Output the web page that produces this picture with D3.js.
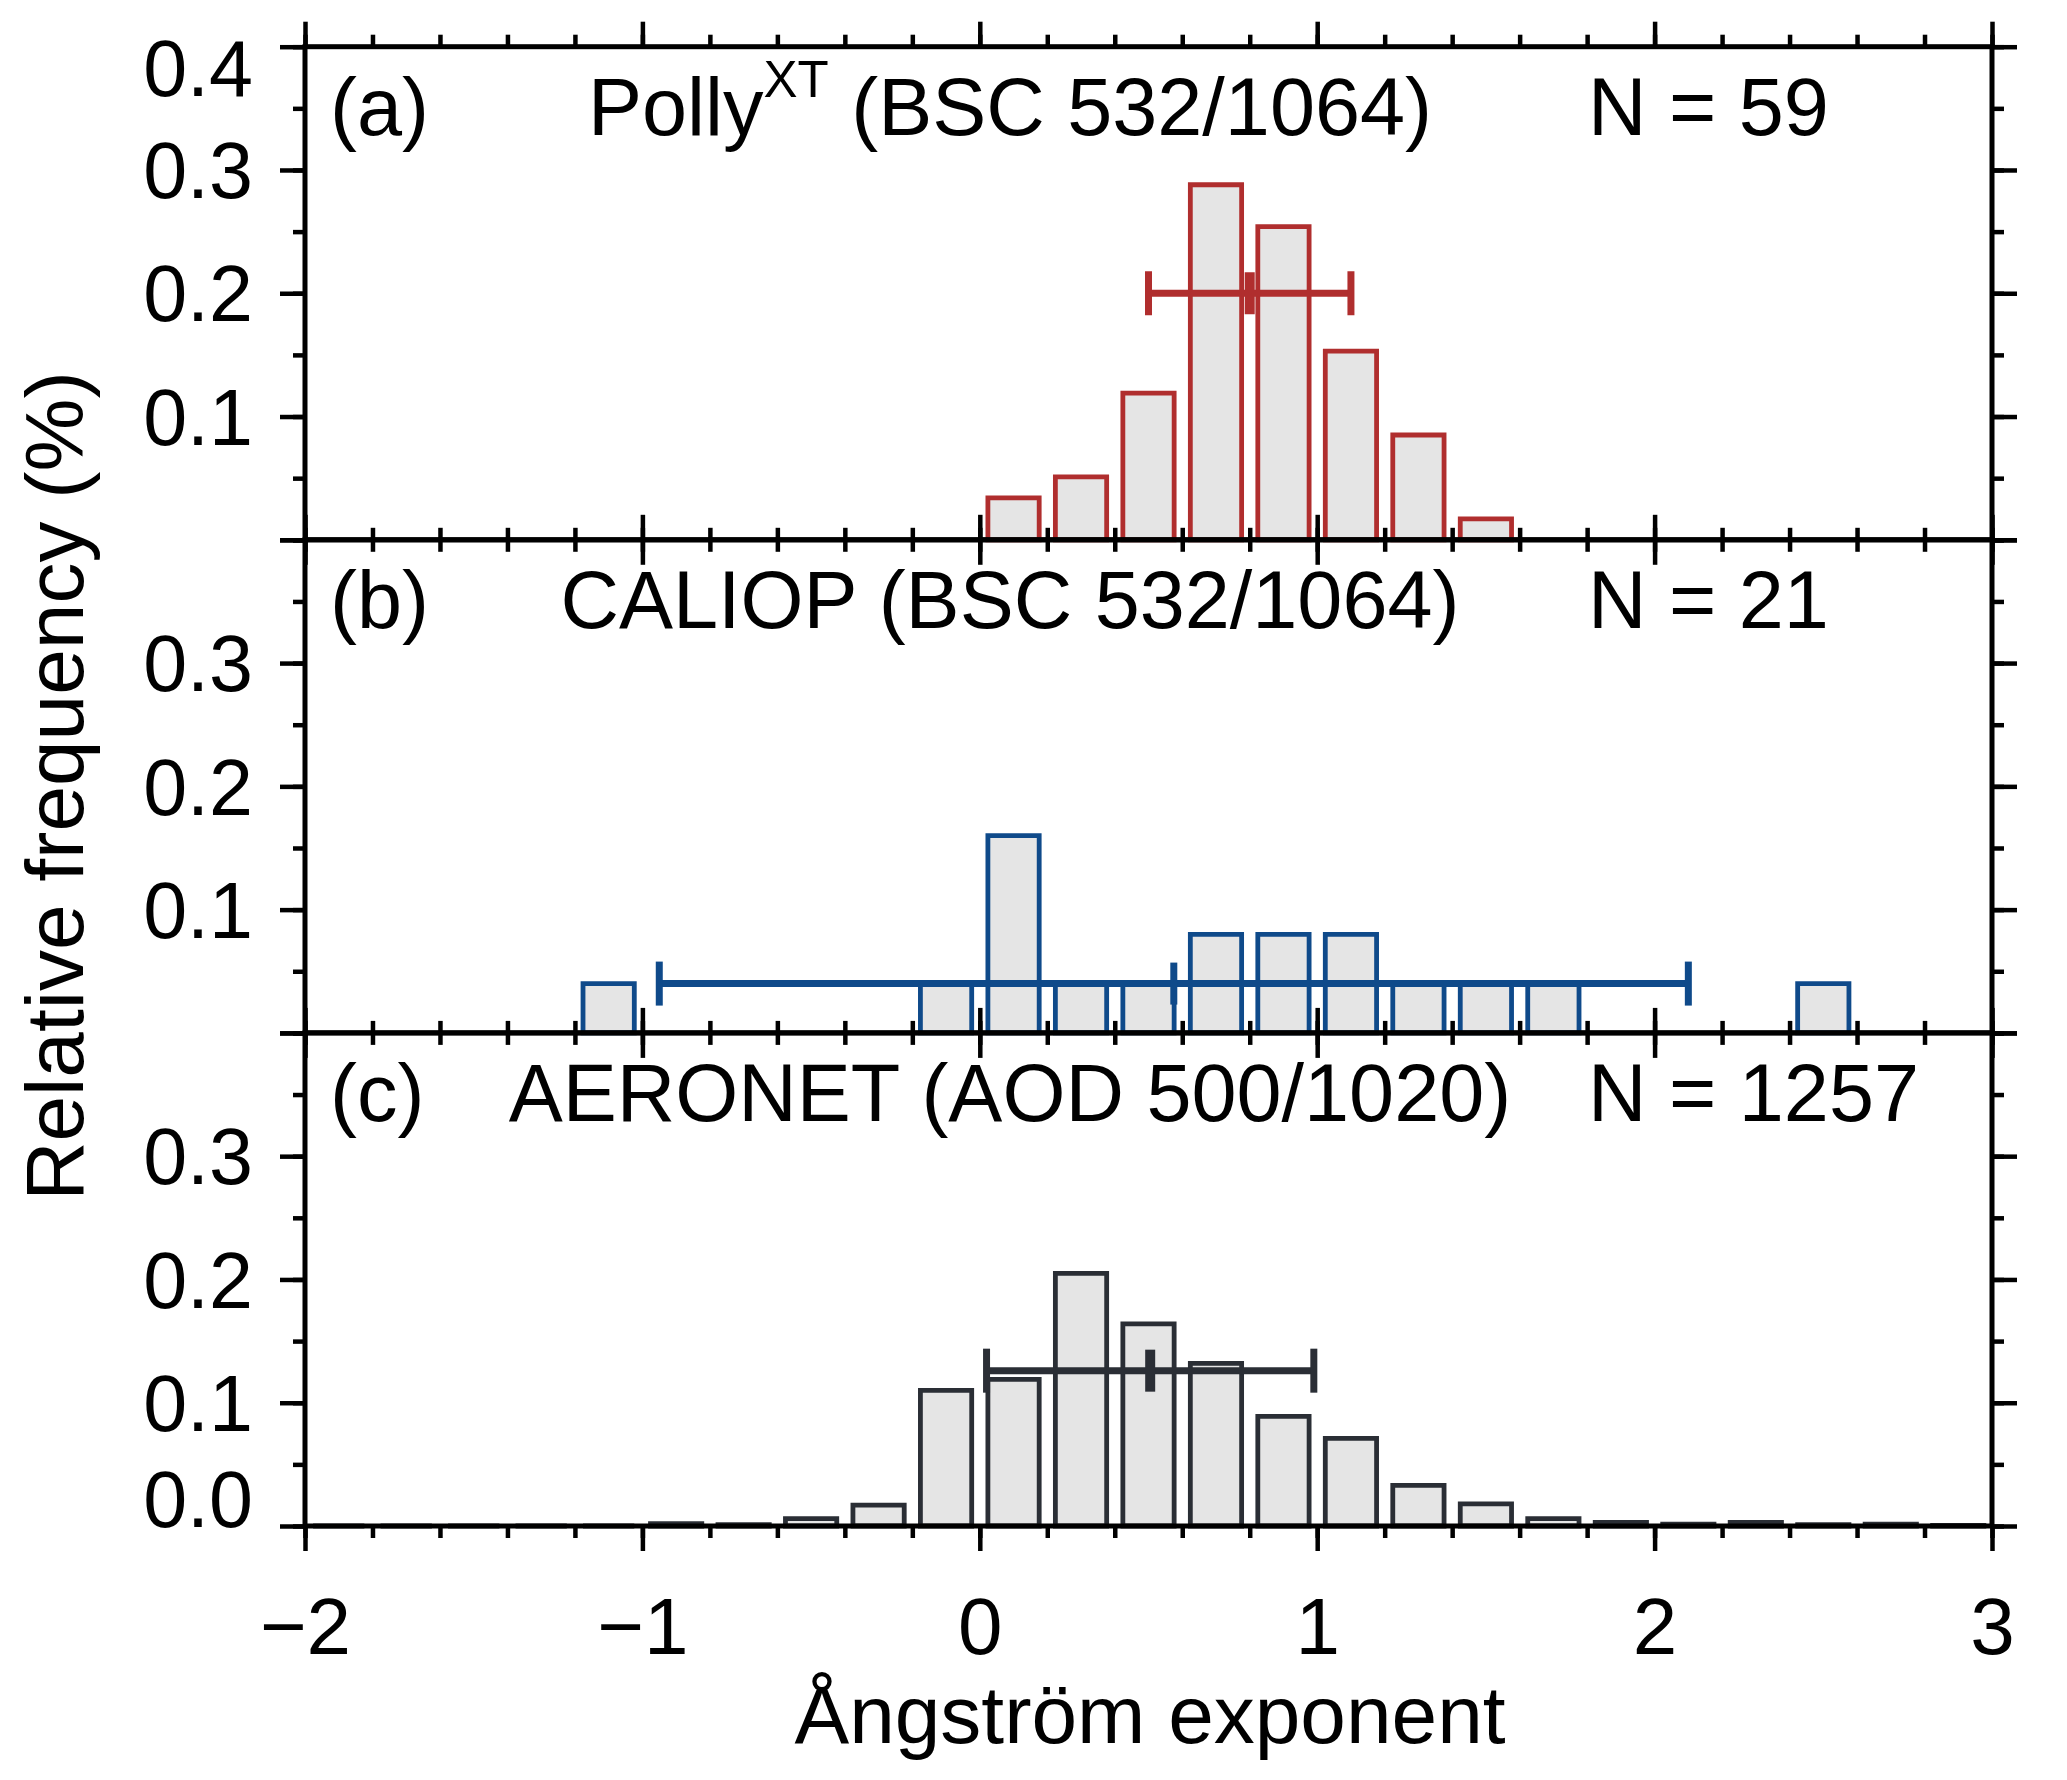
<!DOCTYPE html>
<html lang="en">
<head>
<meta charset="utf-8">
<title>Angstrom exponent histograms</title>
<style>
    body { margin: 0; background: #fff; }
    text { font-family: "Liberation Sans", Arial, Helvetica, sans-serif; fill: #000; }
</style>
<script src="https://cdn.jsdelivr.net/npm/d3@7/dist/d3.min.js"></script>
</head>
<body>
<svg width="2067" height="1780"></svg>
<script>
    // bin centres and relative frequencies
    const pollyCenters = [0.1, 0.3, 0.5, 0.7, 0.9, 1.1, 1.3, 1.5];
    const pollyFreq = [0.034, 0.051, 0.119, 0.288, 0.254, 0.153, 0.085, 0.017];

    const caliopCenters = [-1.1, -0.1, 0.1, 0.3, 0.5, 0.7, 0.9, 1.1, 1.3, 1.5, 1.7, 2.5];
    const caliopFreq = [0.04, 0.04, 0.16, 0.04, 0.04, 0.08, 0.08, 0.08, 0.04, 0.04, 0.04, 0.04];

    const aeronetCenters = [-1.9, -1.7, -1.5, -1.3, -1.1, -0.9, -0.7, -0.5, -0.3, -0.1, 0.1, 0.3, 0.5,
                            0.7, 0.9, 1.1, 1.3, 1.5, 1.7, 1.9, 2.1, 2.3, 2.5, 2.7, 2.9];
    const aeronetFreq = [0, 0, 0, 0, 0, 0.002, 0.001, 0.006, 0.017, 0.110, 0.119, 0.205, 0.164,
                         0.132, 0.089, 0.071, 0.033, 0.018, 0.006, 0.003, 0.0015, 0.003, 0.001, 0.0015, 0.0005];

    // mean, mean - sd, mean + sd, and the height the error bar is drawn at
    const pollyStats = [0.80, 0.50, 1.10, 0.20];
    const caliopStats = [0.575, -0.95, 2.10, 0.04];
    const aeronetStats = [0.505, 0.02, 0.99, 0.126];

    const panelLetters = ["(a)", "(b)", "(c)"];
    const instruments = ["Polly", "CALIOP (BSC 532/1064)", "AERONET (AOD 500/1020)"];
    const sampleSizes = ["N = 59", "N = 21", "N = 1257"];
    const yLabelValues = [[0.1, 0.2, 0.3, 0.4], [0.1, 0.2, 0.3], [0, 0.1, 0.2, 0.3]];
    const xMajor = [-2, -1, 0, 1, 2, 3];

    const panels = [
        {centers: pollyCenters, freq: pollyFreq, stats: pollyStats, color: "#b02e2e"},
        {centers: caliopCenters, freq: caliopFreq, stats: caliopStats, color: "#0f4a8a"},
        {centers: aeronetCenters, freq: aeronetFreq, stats: aeronetStats, color: "#2a2e35"}
    ];

    let svg = d3.select("svg"),
        left = 305, right = 1992,
        top0 = 46.7, panelH = 493.1,
        halfBar = 0.076;

    svg.append("rect").attr("width", 2067).attr("height", 1780).attr("fill", "#fff");

    let x = d3.scaleLinear().domain([-2, 3]).range([left, right]);

    function styleTicks(g, w) {
        g.select(".domain").remove();
        g.selectAll("line").attr("stroke", "#000").attr("stroke-width", w);
    }

    panels.forEach((p, i) => {
        let top = top0 + i * panelH,
            bottom = top + panelH,
            y = d3.scaleLinear().domain([0, 0.4]).range([bottom, top]),
            g = svg.append("g");

        // bars
        let bins = p.centers.map((c, k) => ({c: c, v: p.freq[k]}));
        g.selectAll("path.bar").data(bins).enter().append("path")
            .attr("class", "bar")
            .attr("d", d => {
                let x0 = x(d.c - halfBar), x1 = x(d.c + halfBar), y0 = y(0), y1 = y(d.v);
                return `M${x0},${y0}V${y1}H${x1}V${y0}Z`;
            })
            .attr("fill", "#e5e5e5")
            .attr("stroke", p.color)
            .attr("stroke-width", 4.8);

        // error bar
        let [m, lo, hi, h] = p.stats, eb = g.append("g").attr("stroke", p.color);
        eb.append("line").attr("x1", x(lo)).attr("x2", x(hi)).attr("y1", y(h)).attr("y2", y(h))
            .attr("stroke-width", 7);
        [lo, hi].forEach(v => {
            eb.append("line").attr("x1", x(v)).attr("x2", x(v)).attr("y1", y(h) - 22).attr("y2", y(h) + 22)
                .attr("stroke-width", 7);
        });
        eb.append("line").attr("x1", x(m)).attr("x2", x(m)).attr("y1", y(h) - 21).attr("y2", y(h) + 21)
            .attr("stroke-width", i === 1 ? 7 : 10);

        // ticks, all pointing outwards
        g.append("g").attr("transform", `translate(0,${bottom})`)
            .call(d3.axisBottom(x).ticks(25).tickSize(12).tickFormat("")).call(styleTicks, 4.5);
        g.append("g").attr("transform", `translate(0,${bottom})`)
            .call(d3.axisBottom(x).tickValues(xMajor).tickSize(25).tickFormat("")).call(styleTicks, 4.5);
        g.append("g").attr("transform", `translate(0,${top})`)
            .call(d3.axisTop(x).ticks(25).tickSize(12).tickFormat("")).call(styleTicks, 4.5);
        g.append("g").attr("transform", `translate(0,${top})`)
            .call(d3.axisTop(x).tickValues(xMajor).tickSize(25).tickFormat("")).call(styleTicks, 4.5);
        g.append("g").attr("transform", `translate(${left},0)`)
            .call(d3.axisLeft(y).ticks(8).tickSize(12).tickFormat("")).call(styleTicks, 4.5);
        g.append("g").attr("transform", `translate(${left},0)`)
            .call(d3.axisLeft(y).ticks(4).tickSize(25).tickFormat("")).call(styleTicks, 4.5);
        g.append("g").attr("transform", `translate(${right},0)`)
            .call(d3.axisRight(y).ticks(8).tickSize(12).tickFormat("")).call(styleTicks, 4.5);
        g.append("g").attr("transform", `translate(${right},0)`)
            .call(d3.axisRight(y).ticks(4).tickSize(25).tickFormat("")).call(styleTicks, 4.5);

        // frame
        g.append("rect").attr("x", left).attr("y", top).attr("width", right - left).attr("height", panelH)
            .attr("fill", "none").attr("stroke", "#000").attr("stroke-width", 5);

        // y tick labels
        let yl = g.append("g").attr("transform", `translate(${left},0)`)
            .call(d3.axisLeft(y).tickValues(yLabelValues[i]).tickSize(0).tickPadding(52).tickFormat(d3.format(".1f")));
        yl.select(".domain").remove();
        yl.attr("font-size", 79).attr("font-family", null);
        yl.selectAll("text")
            .attr("dy", d => d === 0.4 ? "0.62em" : d === 0 ? "0em" : "0.35em");

        // panel titles
        let ty = top + 88;
        g.append("text").attr("x", 330).attr("y", ty).attr("font-size", 81).text(panelLetters[i]);
        let t = g.append("text").attr("x", 1010).attr("y", ty).attr("font-size", 81)
            .attr("text-anchor", "middle");
        if (i === 0) {
            t.append("tspan").text(instruments[i]);
            t.append("tspan").attr("dy", -38).attr("font-size", 51).text("XT");
            t.append("tspan").attr("dy", 38).text(" (BSC 532/1064)");
        } else {
            t.text(instruments[i]);
        }
        g.append("text").attr("x", 1588).attr("y", ty).attr("font-size", 81).text(sampleSizes[i]);

        // x tick labels only under the last panel
        if (i === panels.length - 1) {
            let xl = g.append("g").attr("transform", `translate(0,${bottom})`)
                .call(d3.axisBottom(x).tickValues(xMajor).tickSize(0).tickPadding(71).tickFormat(d3.format("d")));
            xl.select(".domain").remove();
            xl.attr("font-size", 80).attr("font-family", null);
        }
    });

    svg.append("text")
        .attr("x", 1150).attr("y", 1743)
        .attr("text-anchor", "middle").attr("font-size", 82)
        .text("Ångström exponent");

    svg.append("text")
        .attr("transform", "translate(83,786) rotate(-90)")
        .attr("text-anchor", "middle").attr("font-size", 82)
        .text("Relative frequency (%)");
</script>
</body>
</html>
